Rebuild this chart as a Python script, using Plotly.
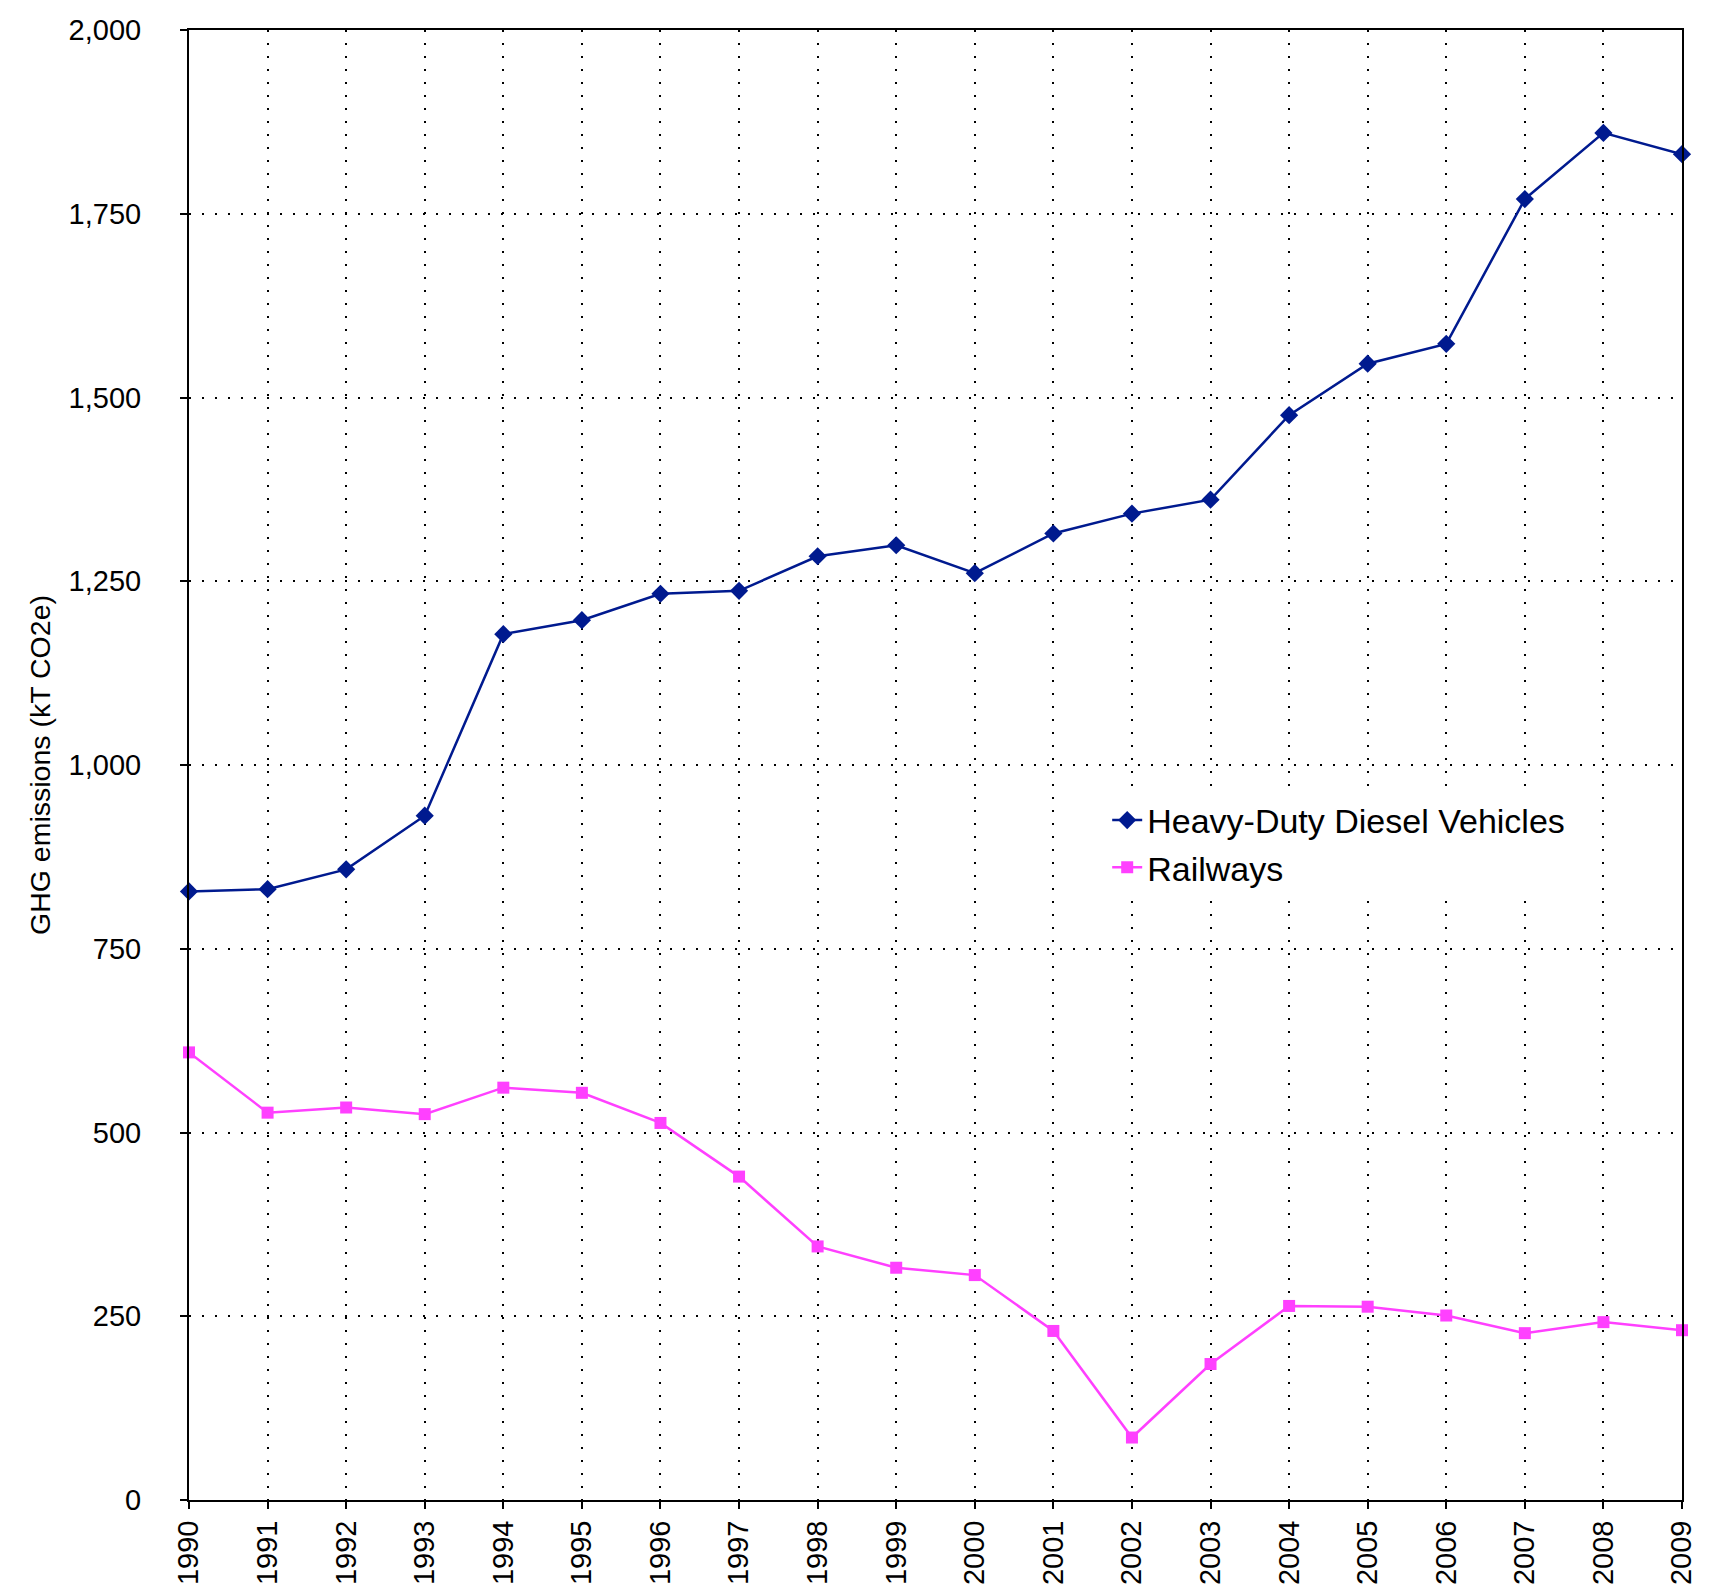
import plotly.graph_objects as go

years = list(range(1990, 2010))
heavy_duty = [828, 831, 858, 931, 1178, 1197, 1233, 1237, 1284, 1299,
              1261, 1315, 1342, 1361, 1476, 1546, 1573, 1770, 1860, 1831]
railways = [609, 527, 534, 525, 561, 554, 513, 440, 345, 316,
            306, 230, 85, 185, 264, 263, 251, 227, 242, 231]
y_ticks = [0, 250, 500, 750, 1000, 1250, 1500, 1750, 2000]

FONT = "Liberation Sans, Arial, Helvetica, sans-serif"
BLUE = "#001A8F"
MAGENTA = "#FF40FF"

fig = go.Figure()
fig.add_trace(go.Scatter(
    x=years, y=heavy_duty, name="Heavy-Duty Diesel Vehicles",
    mode="lines+markers", line=dict(color=BLUE, width=2.5),
    marker=dict(symbol="diamond", size=14, color=BLUE), cliponaxis=False))
fig.add_trace(go.Scatter(
    x=years, y=railways, name="Railways",
    mode="lines+markers", line=dict(color=MAGENTA, width=2.5),
    marker=dict(symbol="square", size=12, color=MAGENTA), cliponaxis=False))

fig.update_layout(
    width=1704, height=1580,
    margin=dict(l=181, r=30, t=22, b=88, autoexpand=False),
    paper_bgcolor="white", plot_bgcolor="white",
    font=dict(family=FONT, size=29, color="black"),
    showlegend=True,
    legend=dict(x=0.615, y=0.482, xanchor="left", yanchor="top",
                bgcolor="white", borderwidth=0,
                font=dict(family=FONT, size=34, color="black"),
                tracegroupgap=0, itemsizing="trace"),
)
fig.update_xaxes(
    range=[1990, 2009], tickmode="array", tickvals=years,
    ticktext=[str(y) for y in years], tickangle=-90,
    ticks="outside", ticklen=7, tickwidth=2, tickcolor="black",
    showline=True, linewidth=2, linecolor="black", mirror=True,
    showgrid=True, gridcolor="black", gridwidth=2, griddash="2px,11px",
    zeroline=False, tickfont=dict(family=FONT, size=29), ticklabelstandoff=0,
)
fig.update_yaxes(
    range=[0, 2000], tickmode="array", tickvals=y_ticks,
    ticktext=[f"{v:,}" for v in y_ticks],
    ticks="outside", ticklen=7, tickwidth=2, tickcolor="black",
    showline=True, linewidth=2, linecolor="black", mirror=True,
    showgrid=True, gridcolor="black", gridwidth=2, griddash="2px,11px",
    zeroline=False, tickfont=dict(family=FONT, size=29), ticklabelstandoff=33,
    title=dict(text="GHG emissions (kT CO2e)", font=dict(family=FONT, size=28.5),
               standoff=10),
)

fig.write_html("out.html")
